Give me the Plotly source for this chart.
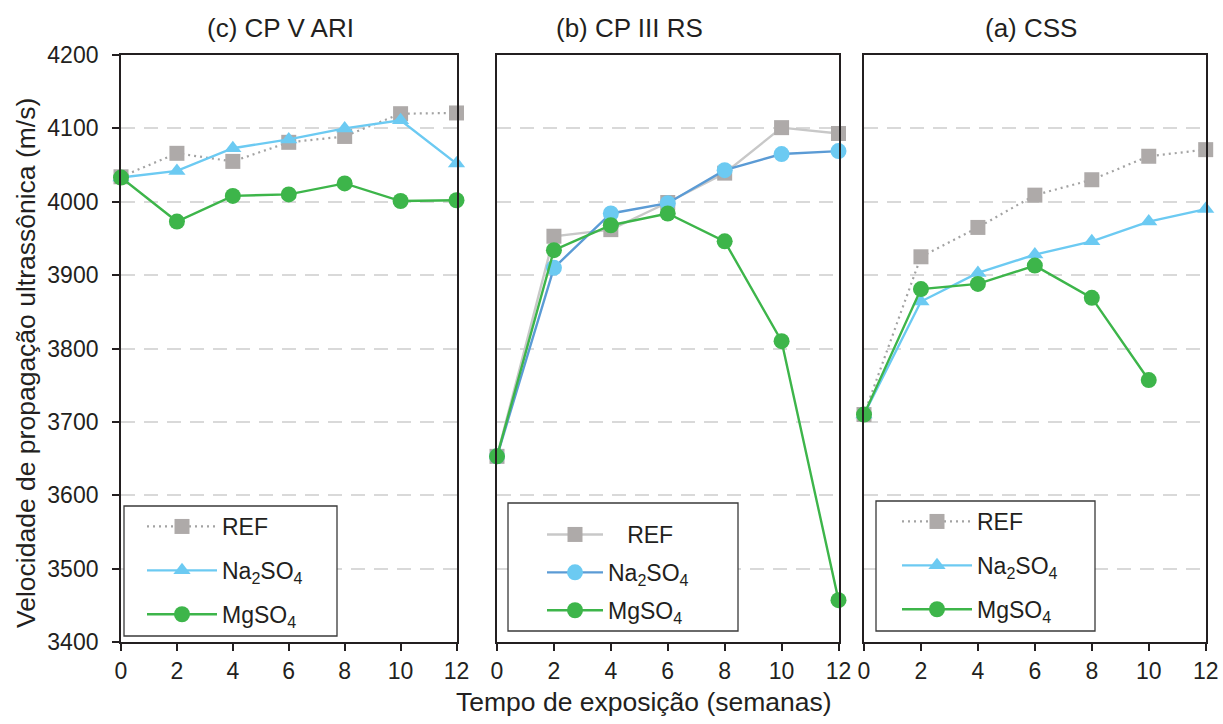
import plotly.graph_objects as go

# Exposure time (weeks)
weeks = [0, 2, 4, 6, 8, 10, 12]

# (c) CP V ARI
c_ref = [4034, 4066, 4055, 4081, 4089, 4120, 4121]
c_na = [4033, 4042, 4073, 4085, 4100, 4111, 4052]
c_mg = [4033, 3973, 4008, 4010, 4025, 4001, 4002]

# (b) CP III RS
b_ref = [3653, 3953, 3962, 3999, 4039, 4101, 4093]
b_na = [3653, 3910, 3984, 3998, 4043, 4065, 4069]
b_mg = [3653, 3934, 3968, 3984, 3946, 3810, 3457]

# (a) CSS
a_ref = [3710, 3925, 3965, 4009, 4030, 4062, 4071]
a_na = [3710, 3864, 3903, 3928, 3946, 3973, 3990]
a_mg = [3710, 3881, 3888, 3913, 3869, 3757, None]

panel_titles = ["(c) CP V ARI", "(b) CP III RS", "(a) CSS"]
series_names = ["REF", "Na<sub>2</sub>SO<sub>4</sub>", "MgSO<sub>4</sub>"]
x_title = "Tempo de exposição (semanas)"
y_title = "Velocidade de propagação ultrassônica (m/s)"

W, H = 1223, 724
FONT = "Liberation Sans, Arial, sans-serif"
INK = "#231f20"
GRAY_M = "#aeaaa9"
GRAY_DOT = "#a3a3a3"
GRAY_LINE = "#c8c8c8"
LIGHT_BLUE = "#6ccaf2"
BLUE = "#5b9bd5"
GREEN = "#3db54a"


def px_x(p):
    return p / W


def px_y(p):
    return 1 - p / H


# plot areas (pixels)
panels_px = [(121, 456.5), (497, 838.5), (864, 1205.7)]
top_px, bot_px = 55, 642
ydom = [px_y(bot_px), px_y(top_px)]

fig = go.Figure()

common = dict(mode="lines+markers", cliponaxis=False)

# panel 1
fig.add_trace(go.Scatter(x=weeks, y=c_ref, name=series_names[0], xaxis="x", yaxis="y",
                         line=dict(color=GRAY_DOT, width=2.2, dash="2px,4px"),
                         marker=dict(symbol="square", size=15, color=GRAY_M),
                         legend="legend", legendgroup="c1", **common))
fig.add_trace(go.Scatter(x=weeks, y=c_na, name=series_names[1], xaxis="x", yaxis="y",
                         line=dict(color=LIGHT_BLUE, width=2.4),
                         marker=dict(symbol="triangle-up", size=15, color=LIGHT_BLUE),
                         legend="legend", legendgroup="c2", **common))
fig.add_trace(go.Scatter(x=weeks, y=c_mg, name=series_names[2], xaxis="x", yaxis="y",
                         line=dict(color=GREEN, width=2.4),
                         marker=dict(symbol="circle", size=16, color=GREEN),
                         legend="legend", legendgroup="c3", **common))

# panel 2
fig.add_trace(go.Scatter(x=weeks, y=b_ref, name="\u00a0\u00a0\u00a0" + series_names[0],
                         xaxis="x2", yaxis="y2",
                         line=dict(color=GRAY_LINE, width=2.4),
                         marker=dict(symbol="square", size=15, color=GRAY_M),
                         legend="legend2", legendgroup="b1", **common))
fig.add_trace(go.Scatter(x=weeks, y=b_na, name=series_names[1], xaxis="x2", yaxis="y2",
                         line=dict(color=BLUE, width=2.4),
                         marker=dict(symbol="circle", size=16, color=LIGHT_BLUE),
                         legend="legend2", legendgroup="b2", **common))
fig.add_trace(go.Scatter(x=weeks, y=b_mg, name=series_names[2], xaxis="x2", yaxis="y2",
                         line=dict(color=GREEN, width=2.4),
                         marker=dict(symbol="circle", size=16, color=GREEN),
                         legend="legend2", legendgroup="b3", **common))

# panel 3
fig.add_trace(go.Scatter(x=weeks, y=a_ref, name=series_names[0], xaxis="x3", yaxis="y3",
                         line=dict(color=GRAY_DOT, width=2.2, dash="2px,4px"),
                         marker=dict(symbol="square", size=15, color=GRAY_M),
                         legend="legend3", legendgroup="a1", **common))
fig.add_trace(go.Scatter(x=weeks, y=a_na, name=series_names[1], xaxis="x3", yaxis="y3",
                         line=dict(color=LIGHT_BLUE, width=2.4),
                         marker=dict(symbol="triangle-up", size=15, color=LIGHT_BLUE),
                         legend="legend3", legendgroup="a2", **common))
fig.add_trace(go.Scatter(x=weeks, y=a_mg, name=series_names[2], xaxis="x3", yaxis="y3",
                         line=dict(color=GREEN, width=2.4),
                         marker=dict(symbol="circle", size=16, color=GREEN),
                         legend="legend3", legendgroup="a3", **common))

tickfont = dict(family=FONT, size=23, color=INK)

xbase = dict(range=[0, 12], tickvals=weeks, showgrid=False, zeroline=False,
             showline=True, linecolor=INK, linewidth=1.8, mirror=True,
             ticks="outside", ticklen=7, tickwidth=1.6, tickcolor=INK,
             tickfont=tickfont, automargin=False, fixedrange=True)
ybase = dict(range=[3400, 4200], dtick=100, showgrid=True, gridcolor="#d9d9d9",
             gridwidth=2, griddash="14px,9px", zeroline=False,
             showline=True, linecolor=INK, linewidth=1.8, mirror=True,
             tickfont=tickfont, automargin=False, fixedrange=True, domain=ydom)

layout = dict(
    width=W, height=H, autosize=False,
    margin=dict(l=0, r=0, t=0, b=0),
    paper_bgcolor="white", plot_bgcolor="white",
    font=dict(family=FONT, color=INK),
)
for i, (x0, x1) in enumerate(panels_px):
    k = "" if i == 0 else str(i + 1)
    layout["xaxis" + k] = dict(xbase, domain=[px_x(x0), px_x(x1)], anchor="y" + k)
    if i == 0:
        layout["yaxis" + k] = dict(ybase, anchor="x" + k, ticks="outside", ticklen=7,
                                   tickwidth=1.6, tickcolor=INK, ticklabelstandoff=9)
    else:
        layout["yaxis" + k] = dict(ybase, anchor="x" + k, ticks="", showticklabels=False)

# inward halves of the crossing tick marks
inner = dict(showline=False, showgrid=False, zeroline=False, showticklabels=False,
             ticks="inside", ticklen=7, tickwidth=1.6, tickcolor=INK, fixedrange=True)
layout["xaxis4"] = dict(inner, overlaying="x", anchor="y", range=[0, 12], tickvals=weeks, side="bottom")
layout["xaxis6"] = dict(inner, overlaying="x3", anchor="y3", range=[0, 12], tickvals=weeks, side="bottom")
layout["yaxis4"] = dict(inner, overlaying="y", anchor="x", range=[3400, 4200], dtick=100, side="left")

# legends: (left px, top px, symbol width, gap between entries)
legfont = dict(family=FONT, size=23, color=INK)
leg_pos = [(142, 505, 70, 11), (542, 513, 56, 5), (897, 500, 70, 11)]
for i, (lx, ly, iw, gap) in enumerate(leg_pos):
    k = "legend" if i == 0 else "legend" + str(i + 1)
    layout[k] = dict(x=px_x(lx), y=px_y(ly), xanchor="left", yanchor="top",
                     bgcolor="rgba(0,0,0,0)", borderwidth=0, font=legfont,
                     itemwidth=iw, tracegroupgap=gap, itemsizing="trace")

fig.update_layout(**layout)

# legend frames
boxes = [(124, 506, 337, 636), (508, 503, 738, 631), (876, 501, 1095, 631)]
for (x0, y0, x1, y1) in boxes:
    fig.add_shape(type="rect", xref="paper", yref="paper",
                  x0=px_x(x0), x1=px_x(x1), y0=px_y(y1), y1=px_y(y0),
                  line=dict(color="#3a3a3a", width=1.3), fillcolor="white", layer="above")

# panel titles and axis titles
title_x = [280, 629, 1031]
for t, tx in zip(panel_titles, title_x):
    fig.add_annotation(text=t, x=px_x(tx), y=px_y(28), xref="paper", yref="paper",
                       showarrow=False, xanchor="center", yanchor="middle",
                       font=dict(family=FONT, size=26, color=INK))
fig.add_annotation(text=x_title, x=px_x(644), y=px_y(702), xref="paper", yref="paper",
                   showarrow=False, xanchor="center", yanchor="middle",
                   font=dict(family=FONT, size=26.5, color=INK))
fig.add_annotation(text=y_title, x=px_x(26), y=px_y(363), xref="paper", yref="paper",
                   showarrow=False, xanchor="center", yanchor="middle", textangle=-90,
                   font=dict(family=FONT, size=26.5, color=INK))

fig.write_html("out.html")
